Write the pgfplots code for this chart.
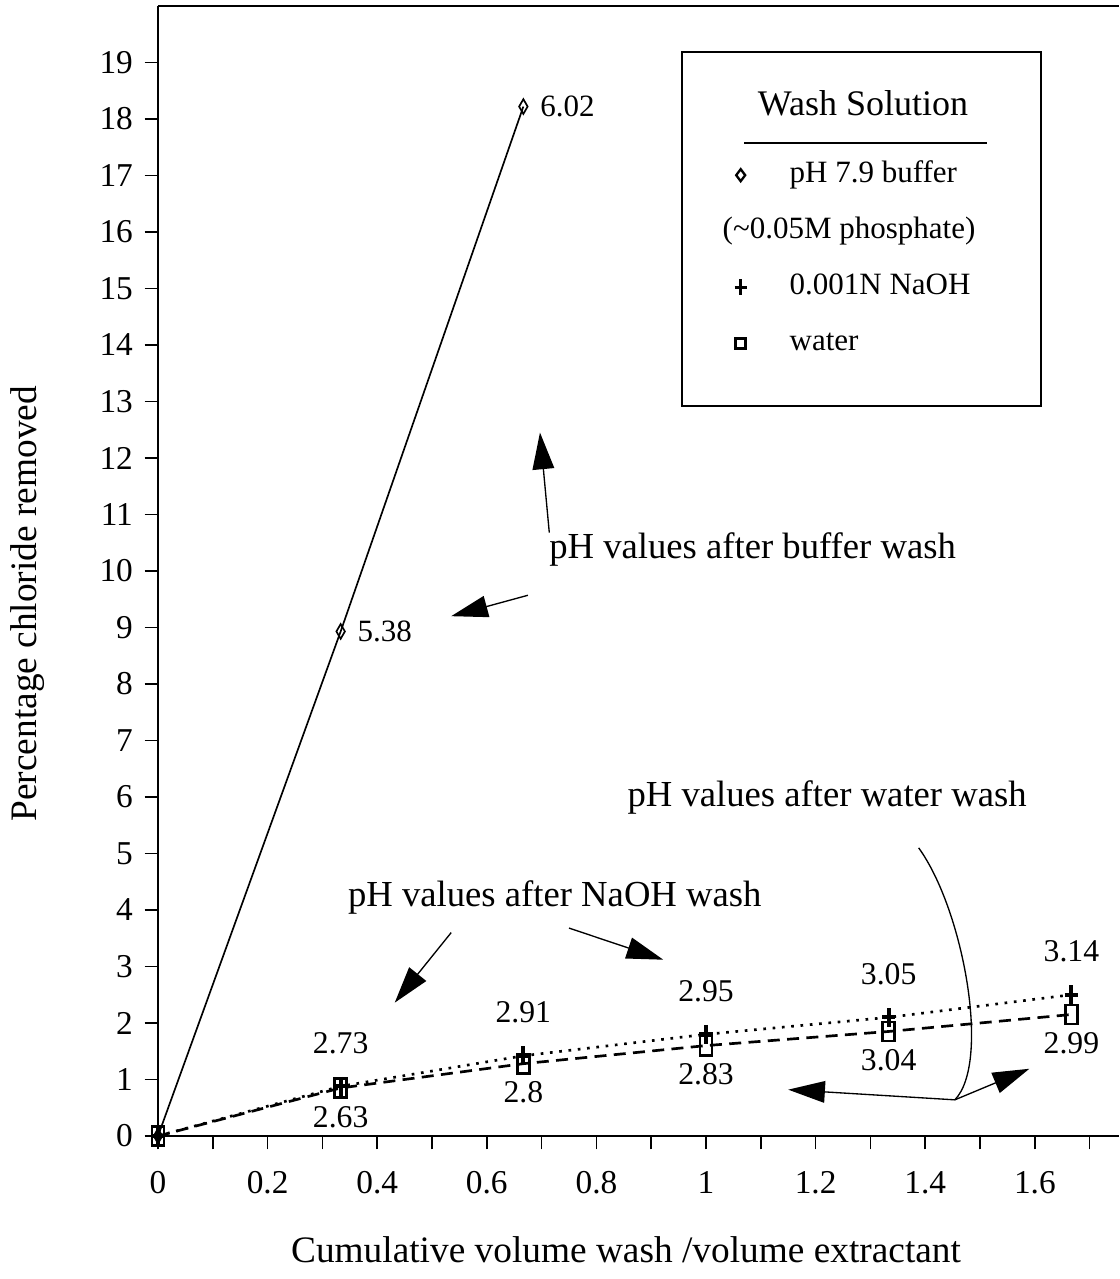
\documentclass[border=0pt]{standalone}
\usepackage{fontspec}
\setmainfont{Liberation Serif}
\usepackage{pgfplots}
\pgfplotsset{compat=1.18}
\usetikzlibrary{arrows.meta}

\newcommand{\fs}[1]{\fontsize{#1}{#1}\selectfont}

\begin{document}
\begin{tikzpicture}
\begin{axis}[
    scale only axis,
    width=288.3pt, height=339pt,
    xmin=0, xmax=1.7536, ymin=0, ymax=20,
    axis x line=box, axis y line=left,
    axis line style={-, line width=0.8pt},
    xtick={0,0.2,...,1.6},
    minor xtick={0.1,0.3,0.5,0.7,0.9,1.1,1.3,1.5,1.7},
    ytick={0,1,...,19},
    xtick pos=left, ytick pos=left,
    tick align=outside,
    major tick length=4pt, minor tick length=4pt,
    tick style={line width=0.5pt, black},
    tick label style={font=\fs{10}},
    xticklabel style={yshift=-3pt},
    /pgf/number format/assume math mode=true,
    xlabel={Cumulative volume wash /volume extractant},
    ylabel={Percentage chloride removed},
    label style={font=\fs{11.2}},
    xlabel style={at={(axis description cs:0.487,-0.1010)}, anchor=center},
    ylabel style={at={(axis description cs:-0.1362,0.471)}, anchor=center},
    clip=false,
    legend style={draw=none, fill=none, inner sep=0pt, outer sep=0pt,
        at={(rel axis cs:0.5786,0.8628)}, anchor=north west,
        font=\fs{9.3}, row sep=8.3pt, column sep=6.7pt,
        nodes={inner sep=0pt, text height=6.5pt, text depth=2pt}},
    legend cell align=left,
    legend image code/.code={\draw[#1] plot coordinates {(0pt,0pt)};
        \path[draw=none, fill=none] (-8pt,-2pt) rectangle (8pt,2pt);},
]
% buffer wash
\addplot[forget plot, black, line width=0.5pt, mark=diamond, mark size=1.7pt,
    mark options={solid, yscale=1.3, fill=white},
    nodes near coords, point meta=explicit symbolic,
    every node near coord/.append style={font=\fs{9.3}, anchor=west, xshift=1.5pt}]
    coordinates {(0,0) [] (0.3333,8.93) [5.38] (0.6667,18.22) [6.02]};
% NaOH wash
\addplot[forget plot, black, line width=0.8pt, dotted, mark=+, mark size=2pt,
    mark options={solid, yscale=1.4, line width=1.2pt},
    nodes near coords, point meta=explicit symbolic,
    every node near coord/.append style={font=\fs{9.5}, anchor=center, yshift=13pt}]
    coordinates {(0,0) [] (0.3333,0.88) [2.73] (0.6667,1.42) [2.91]
                 (1,1.80) [2.95] (1.3333,2.10) [3.05] (1.6667,2.50) [3.14]};
% water wash
\addplot[forget plot, black, line width=0.8pt, dash pattern=on 3.6pt off 2.2pt,
    mark=square, mark size=1.8pt,
    mark options={solid, yscale=1.6, fill=white},
    nodes near coords, point meta=explicit symbolic,
    every node near coord/.append style={font=\fs{9.5}, anchor=center, yshift=-8.7pt}]
    coordinates {(0,0) [] (0.3333,0.85) [2.63] (0.6667,1.28) [2.8]
                 (1,1.60) [2.83] (1.3333,1.85) [3.04] (1.6667,2.15) [2.99]};

% legend
\addlegendimage{only marks, mark=diamond, mark size=1.8pt, black, mark options={solid, line width=0.7pt}}
\addlegendentry{pH 7.9 buffer}
\addlegendimage{empty legend}
\addlegendentry{\hspace*{-20.1pt}(\textasciitilde 0.05M phosphate)}
\addlegendimage{only marks, mark=+, mark size=1.8pt, black, mark options={solid, yscale=1.3, line width=1pt}}
\addlegendentry{0.001N NaOH}
\addlegendimage{only marks, mark=square, mark size=1.5pt, black, mark options={solid, line width=1pt}}
\addlegendentry{water}

\draw[line width=0.6pt] (rel axis cs:0.5453,0.9593) rectangle (rel axis cs:0.9188,0.646);
\node[font=\fs{10.8}] at (rel axis cs:0.7336,0.9142) {Wash Solution};
\draw[line width=0.5pt] (rel axis cs:0.6098,0.8788) -- (rel axis cs:0.8626,0.8788);

% annotations
\tikzset{callout/.style={line width=0.4pt, -{Triangle[length=11pt,width=6.5pt]}}}
\node[font=\fs{11}] at (axis cs:1.085,10.38) {pH values after buffer wash};
\draw[callout] (axis cs:0.714,10.68) -- (axis cs:0.697,12.45);
\draw[callout] (axis cs:0.675,9.57) -- (axis cs:0.535,9.20);
\node[font=\fs{11}] at (axis cs:0.724,4.23) {pH values after NaOH wash};
\draw[callout] (axis cs:0.535,3.60) -- (axis cs:0.432,2.36);
\draw[callout] (axis cs:0.750,3.68) -- (axis cs:0.922,3.12);
\node[font=\fs{11}] at (axis cs:1.221,5.99) {pH values after water wash};
\draw[line width=0.4pt] (axis cs:1.388,5.10) .. controls (axis cs:1.47,4.0) and (axis cs:1.52,1.3) .. (axis cs:1.454,0.64);
\draw[callout] (axis cs:1.454,0.64) -- (axis cs:1.15,0.82);
\draw[callout] (axis cs:1.454,0.64) -- (axis cs:1.59,1.19);

\coordinate (ll) at (rel axis cs:0,0);
\coordinate (ur) at (rel axis cs:1,1);
\end{axis}
\pgfresetboundingbox
\path ([shift={(-47.4pt,-42.9pt)}]ll) rectangle ([shift={(0pt,1.8pt)}]ur);
\end{tikzpicture}
\end{document}
